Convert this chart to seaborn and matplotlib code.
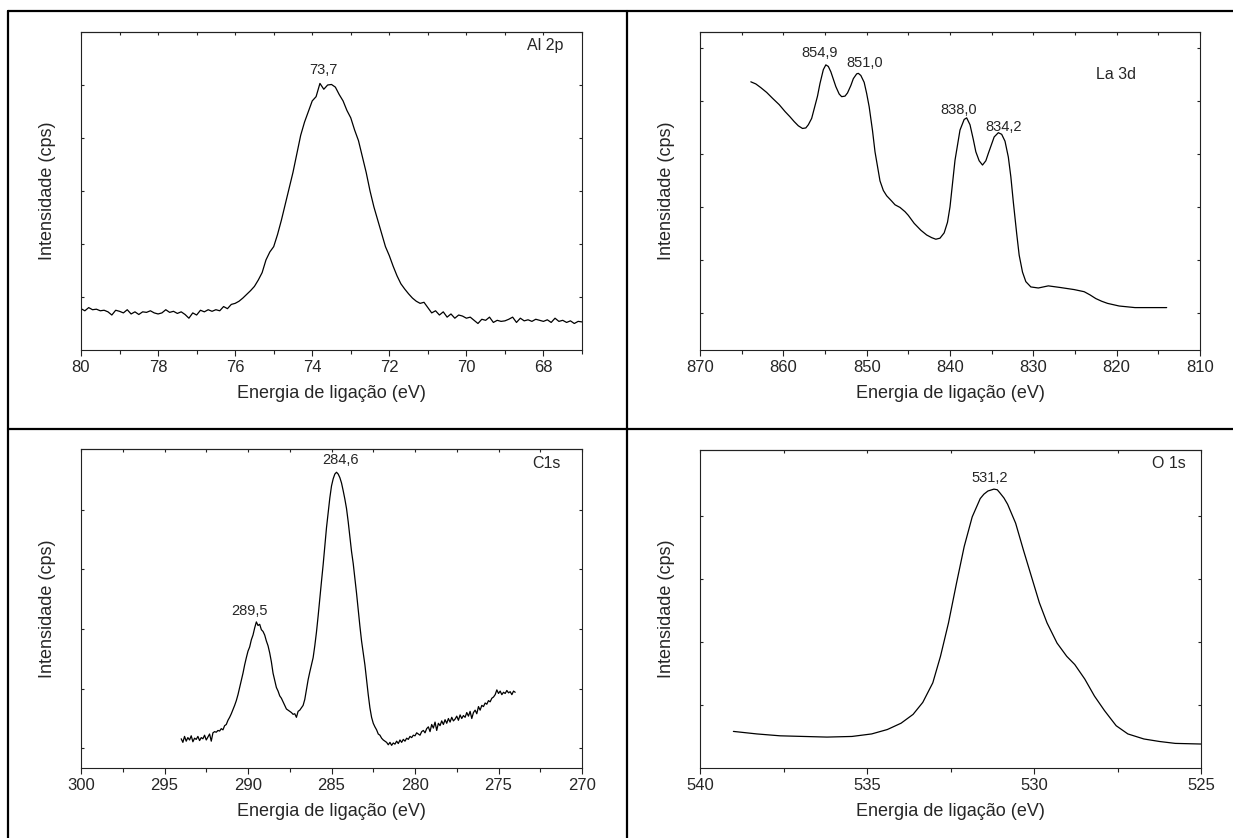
import numpy as np
import matplotlib
matplotlib.use("Agg")
import matplotlib.pyplot as plt
from matplotlib.lines import Line2D
from matplotlib.ticker import MultipleLocator
import seaborn as sns

sns.set_style("ticks")
plt.rcParams['font.family'] = ['Liberation Sans', 'DejaVu Sans']

# ---- Al 2p (0.1 eV steps from 80.0 down to 67.0)
al_start = 80.0
al_step = 0.1
al_int = [0.78, 0.74, 0.80, 0.76, 0.77, 0.74, 0.75, 0.72, 0.66, 0.75,
          0.73, 0.70, 0.76, 0.68, 0.72, 0.67, 0.72, 0.71, 0.74, 0.70,
          0.68, 0.70, 0.76, 0.71, 0.73, 0.69, 0.72, 0.67, 0.60, 0.70,
          0.66, 0.75, 0.72, 0.76, 0.73, 0.76, 0.74, 0.82, 0.78, 0.86,
          0.88, 0.92, 0.98, 1.05, 1.12, 1.20, 1.32, 1.46, 1.70, 1.85,
          1.95, 2.18, 2.45, 2.75, 3.05, 3.35, 3.70, 4.05, 4.30, 4.50,
          4.70, 4.78, 5.03, 4.92, 5.00, 5.01, 4.96, 4.82, 4.70, 4.52,
          4.38, 4.15, 3.95, 3.65, 3.35, 3.00, 2.70, 2.45, 2.20, 1.95,
          1.78, 1.58, 1.40, 1.25, 1.15, 1.06, 0.98, 0.92, 0.88, 0.90,
          0.80, 0.70, 0.74, 0.66, 0.72, 0.62, 0.68, 0.60, 0.66, 0.64,
          0.60, 0.62, 0.56, 0.50, 0.58, 0.56, 0.62, 0.52, 0.56, 0.54,
          0.55, 0.58, 0.62, 0.52, 0.60, 0.55, 0.57, 0.54, 0.58, 0.56,
          0.54, 0.57, 0.52, 0.60, 0.54, 0.56, 0.52, 0.55, 0.50, 0.54,
          0.53]

# ---- La 3d
la_energy = [863.9, 863.3, 862.7, 862.0, 861.3, 860.5, 859.8, 859.2, 858.7, 858.2,
             857.7, 857.3, 857.0, 856.6, 856.3, 855.9, 855.6, 855.2, 854.9, 854.6,
             854.3, 854.0, 853.7, 853.3, 853.0, 852.6, 852.3, 851.9, 851.6, 851.2,
             851.0, 850.7, 850.3, 850.0, 849.7, 849.3, 849.0, 848.4, 848.0, 847.6,
             847.0, 846.6, 846.0, 845.4, 845.0, 844.3, 843.5, 842.8, 842.2, 841.7,
             841.2, 840.7, 840.3, 840.0, 839.7, 839.4, 838.8, 838.3, 838.0, 837.6,
             837.2, 836.9, 836.5, 836.1, 835.7, 835.4, 834.7, 834.2, 833.8, 833.4,
             833.0, 832.7, 832.4, 832.0, 831.7, 831.3, 830.9, 830.3, 829.4, 828.2,
             826.8, 825.1, 823.9, 823.2, 822.5, 821.8, 821.1, 819.7, 817.8, 815.9,
             814.0]
la_int = [4.37, 4.33, 4.26, 4.17, 4.06, 3.94, 3.81, 3.71, 3.62, 3.54,
          3.49, 3.50, 3.56, 3.68, 3.86, 4.10, 4.34, 4.60, 4.69, 4.66,
          4.56, 4.42, 4.28, 4.14, 4.09, 4.10, 4.16, 4.30, 4.43, 4.52,
          4.53, 4.49, 4.36, 4.15, 3.90, 3.45, 3.05, 2.50, 2.32, 2.22,
          2.12, 2.05, 2.00, 1.92, 1.85, 1.70, 1.57, 1.48, 1.43, 1.40,
          1.42, 1.52, 1.72, 2.01, 2.45, 2.89, 3.46, 3.66, 3.69, 3.56,
          3.28, 3.05, 2.88, 2.80, 2.88, 3.02, 3.33, 3.41, 3.38, 3.25,
          2.95, 2.58, 2.10, 1.51, 1.10, 0.78, 0.60, 0.50, 0.48, 0.52,
          0.49, 0.45, 0.41, 0.35, 0.28, 0.23, 0.19, 0.14, 0.11, 0.11,
          0.11]

# ---- C1s (0.1 eV steps from 294.0 down to 274.0)
c_start = 294.0
c_step = 0.1
c_int = [0.16, 0.10, 0.20, 0.12, 0.18, 0.14, 0.21, 0.11, 0.17, 0.15,
         0.20, 0.13, 0.18, 0.16, 0.22, 0.14, 0.19, 0.24, 0.12, 0.26,
         0.28, 0.27, 0.30, 0.29, 0.33, 0.31, 0.38, 0.40, 0.47, 0.52,
         0.58, 0.65, 0.72, 0.80, 0.90, 1.02, 1.14, 1.26, 1.40, 1.52,
         1.63, 1.70, 1.82, 1.90, 2.02, 2.12, 2.06, 2.08, 1.99, 1.96,
         1.90, 1.80, 1.72, 1.60, 1.45, 1.26, 1.14, 1.02, 0.96, 0.88,
         0.84, 0.78, 0.72, 0.66, 0.64, 0.62, 0.60, 0.57, 0.58, 0.52,
         0.62, 0.64, 0.68, 0.72, 0.82, 0.98, 1.15, 1.28, 1.40, 1.52,
         1.72, 1.95, 2.22, 2.52, 2.80, 3.08, 3.40, 3.70, 3.95, 4.20,
         4.40, 4.52, 4.60, 4.63, 4.60, 4.54, 4.45, 4.32, 4.18, 4.02,
         3.80, 3.55, 3.30, 3.10, 2.85, 2.60, 2.32, 2.05, 1.80, 1.60,
         1.40, 1.15, 0.90, 0.68, 0.52, 0.42, 0.36, 0.31, 0.24, 0.22,
         0.17, 0.14, 0.12, 0.10, 0.06, 0.10, 0.05, 0.09, 0.07, 0.12,
         0.08, 0.14, 0.10, 0.15, 0.12, 0.17, 0.15, 0.20, 0.18, 0.22,
         0.21, 0.26, 0.24, 0.22, 0.28, 0.30, 0.26, 0.33, 0.36, 0.28,
         0.40, 0.34, 0.44, 0.30, 0.42, 0.38, 0.46, 0.40, 0.48, 0.42,
         0.50, 0.44, 0.52, 0.46, 0.49, 0.54, 0.47, 0.56, 0.50, 0.55,
         0.52, 0.60, 0.54, 0.62, 0.50, 0.60, 0.64, 0.58, 0.70, 0.64,
         0.72, 0.70, 0.76, 0.74, 0.80, 0.78, 0.84, 0.86, 0.90, 0.98,
         0.92, 0.96, 0.90, 0.94, 0.92, 0.97, 0.93, 0.95, 0.90, 0.96,
         0.94]

# ---- O 1s
o_energy = [539.0, 538.3, 537.6, 536.9, 536.2, 535.45, 534.86, 534.39, 533.98, 533.62,
            533.33, 533.03, 532.80, 532.56, 532.32, 532.09, 531.85, 531.61, 531.5, 531.38,
            531.2, 531.1, 531.02, 530.9, 530.79, 530.55, 530.32, 530.08, 529.84, 529.61,
            529.31, 529.02, 528.78, 528.48, 528.19, 527.89, 527.54, 527.19, 526.71, 526.24,
            525.77, 525.0]
o_int = [0.58, 0.54, 0.51, 0.50, 0.49, 0.50, 0.54, 0.61, 0.71, 0.85,
         1.04, 1.35, 1.77, 2.30, 2.93, 3.51, 3.98, 4.27, 4.34, 4.39,
         4.42, 4.41, 4.36, 4.28, 4.18, 3.88, 3.46, 3.04, 2.62, 2.30,
         1.98, 1.77, 1.64, 1.41, 1.14, 0.91, 0.67, 0.54, 0.46, 0.42,
         0.39, 0.38]

al_energy = al_start - al_step * np.arange(len(al_int))
c_energy = c_start - c_step * np.arange(len(c_int))

W, H = 1233, 838
fig = plt.figure(figsize=(W / 100, H / 100), dpi=100)


def box(px_left, px_top, px_right, px_bottom):
    return [px_left / W, 1 - px_bottom / H, (px_right - px_left) / W, (px_bottom - px_top) / H]


def panel(rect, x, y, xlim, major, minor, ylim, yticks, peaks, tag, tag_xy, tag_ha):
    ax = fig.add_axes(rect)
    sns.lineplot(x=x, y=y, ax=ax, color='black', linewidth=0.9, sort=False)
    ax.set_xlim(xlim)
    ax.set_ylim(ylim)
    ax.xaxis.set_major_locator(MultipleLocator(major))
    ax.xaxis.set_minor_locator(MultipleLocator(minor))
    ax.set_yticks(yticks)
    for s in ax.spines.values():
        s.set_visible(True)
        s.set_linewidth(0.8)
        s.set_color('#222222')
    ax.tick_params(axis='x', which='major', direction='out', length=4.5, width=0.8,
                   labelsize=12, pad=3, color='#222222')
    ax.tick_params(axis='x', which='minor', direction='out', length=3, width=0.8, color='#222222')
    ax.tick_params(axis='y', which='major', direction='in', left=True, right=True,
                   labelleft=False, length=2.5, width=0.8, color='#222222')
    top = ax.secondary_xaxis('top')
    top.xaxis.set_major_locator(MultipleLocator(major))
    top.xaxis.set_minor_locator(MultipleLocator(minor))
    top.tick_params(axis='x', which='both', direction='in', length=2, width=0.8,
                    labeltop=False, color='#222222')
    top.spines['top'].set_linewidth(0.8)
    top.spines['top'].set_color('#222222')
    ax.set_xlabel('Energia de ligação (eV)', fontsize=13, labelpad=7)
    ax.set_ylabel('Intensidade (cps)', fontsize=13, labelpad=18)
    for txt, px, py in peaks:
        ax.text(px, py, txt, fontsize=10.5, ha='center', va='center')
    ax.text(tag_xy[0], tag_xy[1], tag, fontsize=11.5, ha=tag_ha, va='center',
            transform=ax.transAxes)
    return ax


panel(box(81, 32, 582, 350), al_energy, al_int, (80, 67), 2, 1, (0, 6), [1, 2, 3, 4, 5],
      [('73,7', 73.7, 5.28)], 'Al 2p', (0.962, 0.958), 'right')

panel(box(700, 32, 1200, 350), la_energy, la_int, (870, 810), 10, 5, (-0.69, 5.31),
      [0, 1, 2, 3, 4, 5],
      [('854,9', 855.6, 4.92), ('851,0', 850.2, 4.72), ('838,0', 839.0, 3.84),
       ('834,2', 833.6, 3.52)], 'La 3d', (0.831, 0.865), 'center')

panel(box(81, 449, 582, 768), c_energy, c_int, (300, 270), 5, 2.5, (-0.33, 5.02),
      [0, 1, 2, 3, 4],
      [('284,6', 284.47, 4.83), ('289,5', 289.92, 2.31)], 'C1s', (0.958, 0.956), 'right')

panel(box(700, 450, 1201, 768), o_energy, o_int, (540, 525), 5, 2.5, (0, 5.04),
      [1, 2, 3, 4],
      [('531,2', 531.32, 4.59)], 'O 1s', (0.970, 0.959), 'right')

# table-like cell borders
lines = [((8, 8), (11, H)), ((8, W), (11, 11)), ((627, 627), (11, H)), ((8, W), (429, 429))]
for (xa, xb), (ya, yb) in lines:
    fig.add_artist(Line2D([xa / W, xb / W], [1 - ya / H, 1 - yb / H], color='black',
                          linewidth=1.6, transform=fig.transFigure))

fig.savefig('out.png', dpi=100)
